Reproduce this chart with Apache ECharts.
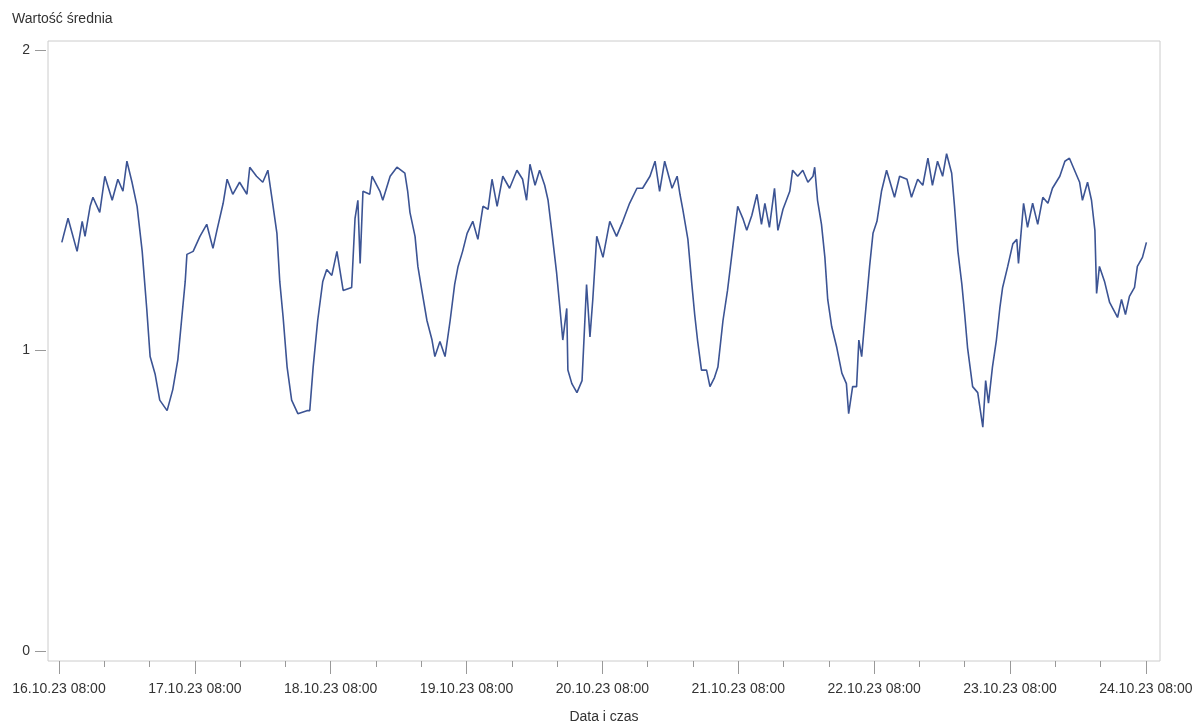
<!DOCTYPE html>
<html>
<head>
<meta charset="utf-8">
<script src="https://cdn.jsdelivr.net/npm/echarts@6/dist/echarts.min.js"></script>
<style>html,body{margin:0;padding:0;background:#fff}#chart{width:1203px;height:724px}</style>
</head>
<body>
<div id="chart"></div>
<script>
// hours after 16.10.23 08:00
const hours = [0.5,1.6,3.2,4.1,4.6,5.5,6.0,7.2,8.1,9.4,10.4,11.3,12.0,12.9,13.8,14.7,15.5,16.1,17.0,17.8,19.1,20.1,21.0,21.7,22.3,22.6,23.7,24.9,26.1,27.2,27.9,29.0,29.7,30.7,31.9,33.2,33.7,34.9,36.0,36.9,37.6,38.5,39.0,39.6,40.3,41.1,42.2,43.8,44.3,44.9,45.7,46.6,47.3,48.2,49.1,
  50.2,51.7,52.3,52.8,53.2,53.7,54.9,55.3,56.7,57.2,58.5,59.7,61.1,61.6,62.0,62.9,63.4,64.1,65.0,65.9,66.4,67.3,68.2,69.1,69.9,70.5,71.3,72.1,73.1,74.0,74.9,75.8,76.5,77.4,78.4,79.6,80.9,81.9,82.6,83.2,84.1,84.9,85.8,86.4,87.1,87.9,88.5,89.0,89.7,89.9,90.6,91.5,92.4,93.2,93.8,94.3,95.0,96.1,97.3,98.5,
  99.6,100.8,102.1,103.1,104.4,105.3,106.1,107.0,108.3,109.2,109.7,110.2,111.1,111.8,112.3,112.8,113.5,114.4,115.0,115.8,116.4,117.3,118.1,119.0,119.9,120.8,121.5,122.4,123.3,124.1,124.7,125.5,126.4,127.0,127.9,129.1,129.6,130.5,131.4,132.3,133.2,133.5,134.0,134.7,135.3,135.8,136.5,137.4,138.3,139.1,139.5,140.2,140.9,141.3,141.8,142.3,143.2,143.8,144.5,145.3,146.2,
  147.6,148.5,149.8,150.6,151.7,152.6,153.5,154.3,155.2,156.1,156.8,157.7,158.2,158.8,159.5,160.0,160.5,161.4,162.3,163.2,163.7,164.2,164.9,165.6,166.2,166.7,167.6,168.5,169.2,169.5,170.4,171.1,172.0,172.9,173.8,174.7,175.5,176.8,177.7,178.5,179.4,180.3,180.8,181.7,182.4,183.0,183.3,183.8,184.7,185.6,187.0,187.7,188.4,189.1,190.0,190.5,191.4,192.1];
const values = [1.36,1.44,1.33,1.43,1.38,1.48,1.51,1.46,1.58,1.50,1.57,1.53,1.63,1.56,1.48,1.33,1.14,0.98,0.92,0.835,0.80,0.87,0.97,1.11,1.23,1.32,1.33,1.38,1.42,1.34,1.40,1.49,1.57,1.52,1.56,1.52,1.61,1.58,1.56,1.60,1.51,1.39,1.23,1.11,0.945,0.835,0.79,0.80,0.80,0.945,1.10,1.23,1.27,1.25,1.33,
  1.20,1.21,1.44,1.50,1.29,1.53,1.52,1.58,1.53,1.50,1.58,1.61,1.59,1.53,1.46,1.38,1.28,1.20,1.10,1.035,0.98,1.03,0.98,1.10,1.22,1.28,1.33,1.39,1.43,1.37,1.48,1.47,1.57,1.48,1.58,1.54,1.60,1.57,1.50,1.62,1.55,1.60,1.55,1.50,1.39,1.26,1.14,1.035,1.14,0.935,0.89,0.86,0.90,1.22,1.045,1.17,1.38,1.31,1.43,1.38,
  1.43,1.49,1.54,1.54,1.58,1.63,1.53,1.63,1.54,1.58,1.52,1.47,1.37,1.22,1.12,1.035,0.935,0.935,0.88,0.91,0.945,1.10,1.20,1.34,1.48,1.44,1.40,1.45,1.52,1.42,1.49,1.41,1.54,1.40,1.47,1.53,1.60,1.58,1.60,1.56,1.58,1.61,1.50,1.42,1.31,1.17,1.08,1.01,0.925,0.89,0.79,0.88,0.88,1.035,0.98,1.09,1.28,1.39,1.43,1.53,1.60,
  1.51,1.58,1.57,1.51,1.57,1.55,1.64,1.55,1.63,1.58,1.655,1.59,1.48,1.33,1.22,1.12,1.01,0.88,0.86,0.745,0.90,0.825,0.945,1.035,1.14,1.21,1.28,1.355,1.37,1.29,1.49,1.41,1.49,1.42,1.51,1.49,1.54,1.58,1.63,1.64,1.60,1.56,1.50,1.56,1.50,1.40,1.19,1.28,1.23,1.16,1.11,1.17,1.12,1.18,1.21,1.28,1.31,1.36];
const allTicks = [0,8,16,24,32,40,48,56,64,72,80,88,96,104,112,120,128,136,144,152,160,168,176,184,192];
const dayTicks = [0,24,48,72,96,120,144,168,192];
const yTicks = [0,1,2];

const base = Date.UTC(2023, 9, 16, 8, 0);
const pad = n => String(n).padStart(2, '0');
function fmt(h) {
  const d = new Date(base + h * 3600000);
  return pad(d.getUTCDate()) + '.' + pad(d.getUTCMonth() + 1) + '.' + String(d.getUTCFullYear()).slice(2) +
    ' ' + pad(d.getUTCHours()) + ':' + pad(d.getUTCMinutes());
}

const font = 'Arial, "Liberation Sans", sans-serif';
const xMin = -1.94, xMax = 194.5;
const chart = echarts.init(document.getElementById('chart'));
chart.setOption({
  animation: false,
  textStyle: { fontFamily: font },
  title: {
    text: 'Wartość średnia', left: 7, top: 7,
    textStyle: { fontSize: 14, fontWeight: 'normal', color: '#333', fontFamily: font }
  },
  grid: {
    left: 48, right: 43, top: 41, bottom: 63, outerBoundsMode: 'none', containLabel: false,
    show: true, borderColor: '#ccc', borderWidth: 1
  },
  xAxis: [
    {
      type: 'value', min: xMin, max: xMax, position: 'bottom', offset: 0,
      name: 'Data i czas', nameLocation: 'middle', nameGap: 49,
      nameTextStyle: { fontSize: 14, color: '#333' },
      axisLine: { show: false, onZero: false },
      splitLine: { show: false },
      axisTick: { show: true, inside: false, customValues: allTicks, length: 6, lineStyle: { color: '#999' } },
      axisLabel: { customValues: dayTicks, formatter: v => fmt(v), fontSize: 14, color: '#333', margin: 21 }
    },
    {
      type: 'value', min: xMin, max: xMax, position: 'bottom', offset: 0,
      axisLine: { show: false, onZero: false }, splitLine: { show: false },
      axisTick: { show: true, inside: false, customValues: dayTicks, length: 13, lineStyle: { color: '#999' } },
      axisLabel: { show: false }
    }
  ],
  yAxis: {
    type: 'value', min: -0.033, max: 2.03, position: 'left', offset: 2,
    axisLine: { show: false, onZero: false }, splitLine: { show: false },
    axisTick: { show: true, inside: false, customValues: yTicks, length: 11, lineStyle: { color: '#999' } },
    axisLabel: { customValues: yTicks, fontSize: 14, color: '#333', margin: 16 }
  },
  series: [{
    type: 'line', xAxisIndex: 0, showSymbol: false,
    data: hours.map((h, i) => [h, values[i]]),
    lineStyle: { color: '#3c5494', width: 1.6 }
  }]
});
</script>
</body>
</html>
